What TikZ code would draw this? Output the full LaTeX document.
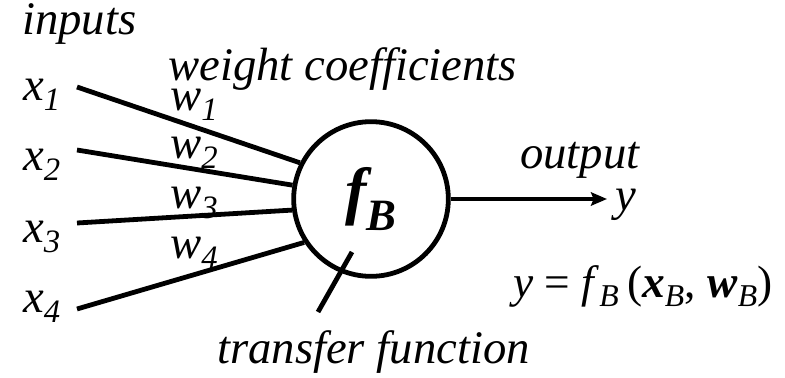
\documentclass[tikz,border=0pt]{standalone}
\usepackage{fontspec}
\setmainfont{Liberation Serif}
\usetikzlibrary{arrows.meta, positioning}

\begin{document}
\begin{tikzpicture}[
    x=0.75pt, y=-0.75pt,
    lbl/.style={font=\fontsize{35}{40}\selectfont\itshape, inner sep=0pt, anchor=base west},
    eqn/.style={font=\fontsize{34}{40}\selectfont, inner sep=0pt, anchor=base west},
    wire/.style={line width=3.6pt},
    arrow/.style={wire, -{Stealth[length=12pt, width=10pt, inset=2pt]}},
    neuron/.style={circle, draw, line width=3.6pt, minimum size=116pt, inner sep=0pt, font=\fontsize{48}{50}\selectfont\bfseries\itshape}
]
\useasboundingbox (0,0) rectangle (785,378);

% Neuron
\node[neuron] (fB) at (371,199) {f\textsubscript{B}};

% Eingaenge
\node[lbl] (inp) at (22,35) {inputs};
\node[lbl] (x1) at (23,100) {x\textsubscript{1}};
\node[lbl] (x2) at (23,170) {x\textsubscript{2}};
\node[lbl] (x3) at (23,242) {x\textsubscript{3}};
\node[lbl] (x4) at (23,312) {x\textsubscript{4}};
\coordinate (s1) at (77,87);
\coordinate (s2) at (77,150);
\coordinate (s3) at (77,223);
\coordinate (s4) at (77,309);

% Gewichte
\node[lbl] (wc) at (168,80) {weight coefficients};
\node[lbl] (w1) at (170,110) {w\textsubscript{1}};
\node[lbl] (w2) at (170,158) {w\textsubscript{2}};
\node[lbl] (w3) at (170,208) {w\textsubscript{3}};
\node[lbl] (w4) at (170,258) {w\textsubscript{4}};

\draw[wire] (s1) -- (fB.153);
\draw[wire] (s2) -- (fB.170);
\draw[wire] (s3) -- (fB.188);
\draw[wire] (s4) -- (fB.213);

% Ausgang
\coordinate (tip) at (607,199);
\draw[arrow] (fB.east) -- (tip);
\node[lbl] (out) at (520,168) {output};
\node[lbl] (y) at (615,210) {y};
\node[eqn] (eq) at (513,297) {\textit{y} = \textit{f}\textsubscript{\textit{B}}\,(\textbf{\textit{x}}\textsubscript{\textit{B}}, \textbf{\textit{w}}\textsubscript{\textit{B}})};

% Transferfunktion
\coordinate (t1) at (352,252);
\coordinate (t2) at (318,312);
\draw[wire] (t1) -- (t2);
\node[lbl] (tf) at (217,363) {transfer function};

\end{tikzpicture}
\end{document}
